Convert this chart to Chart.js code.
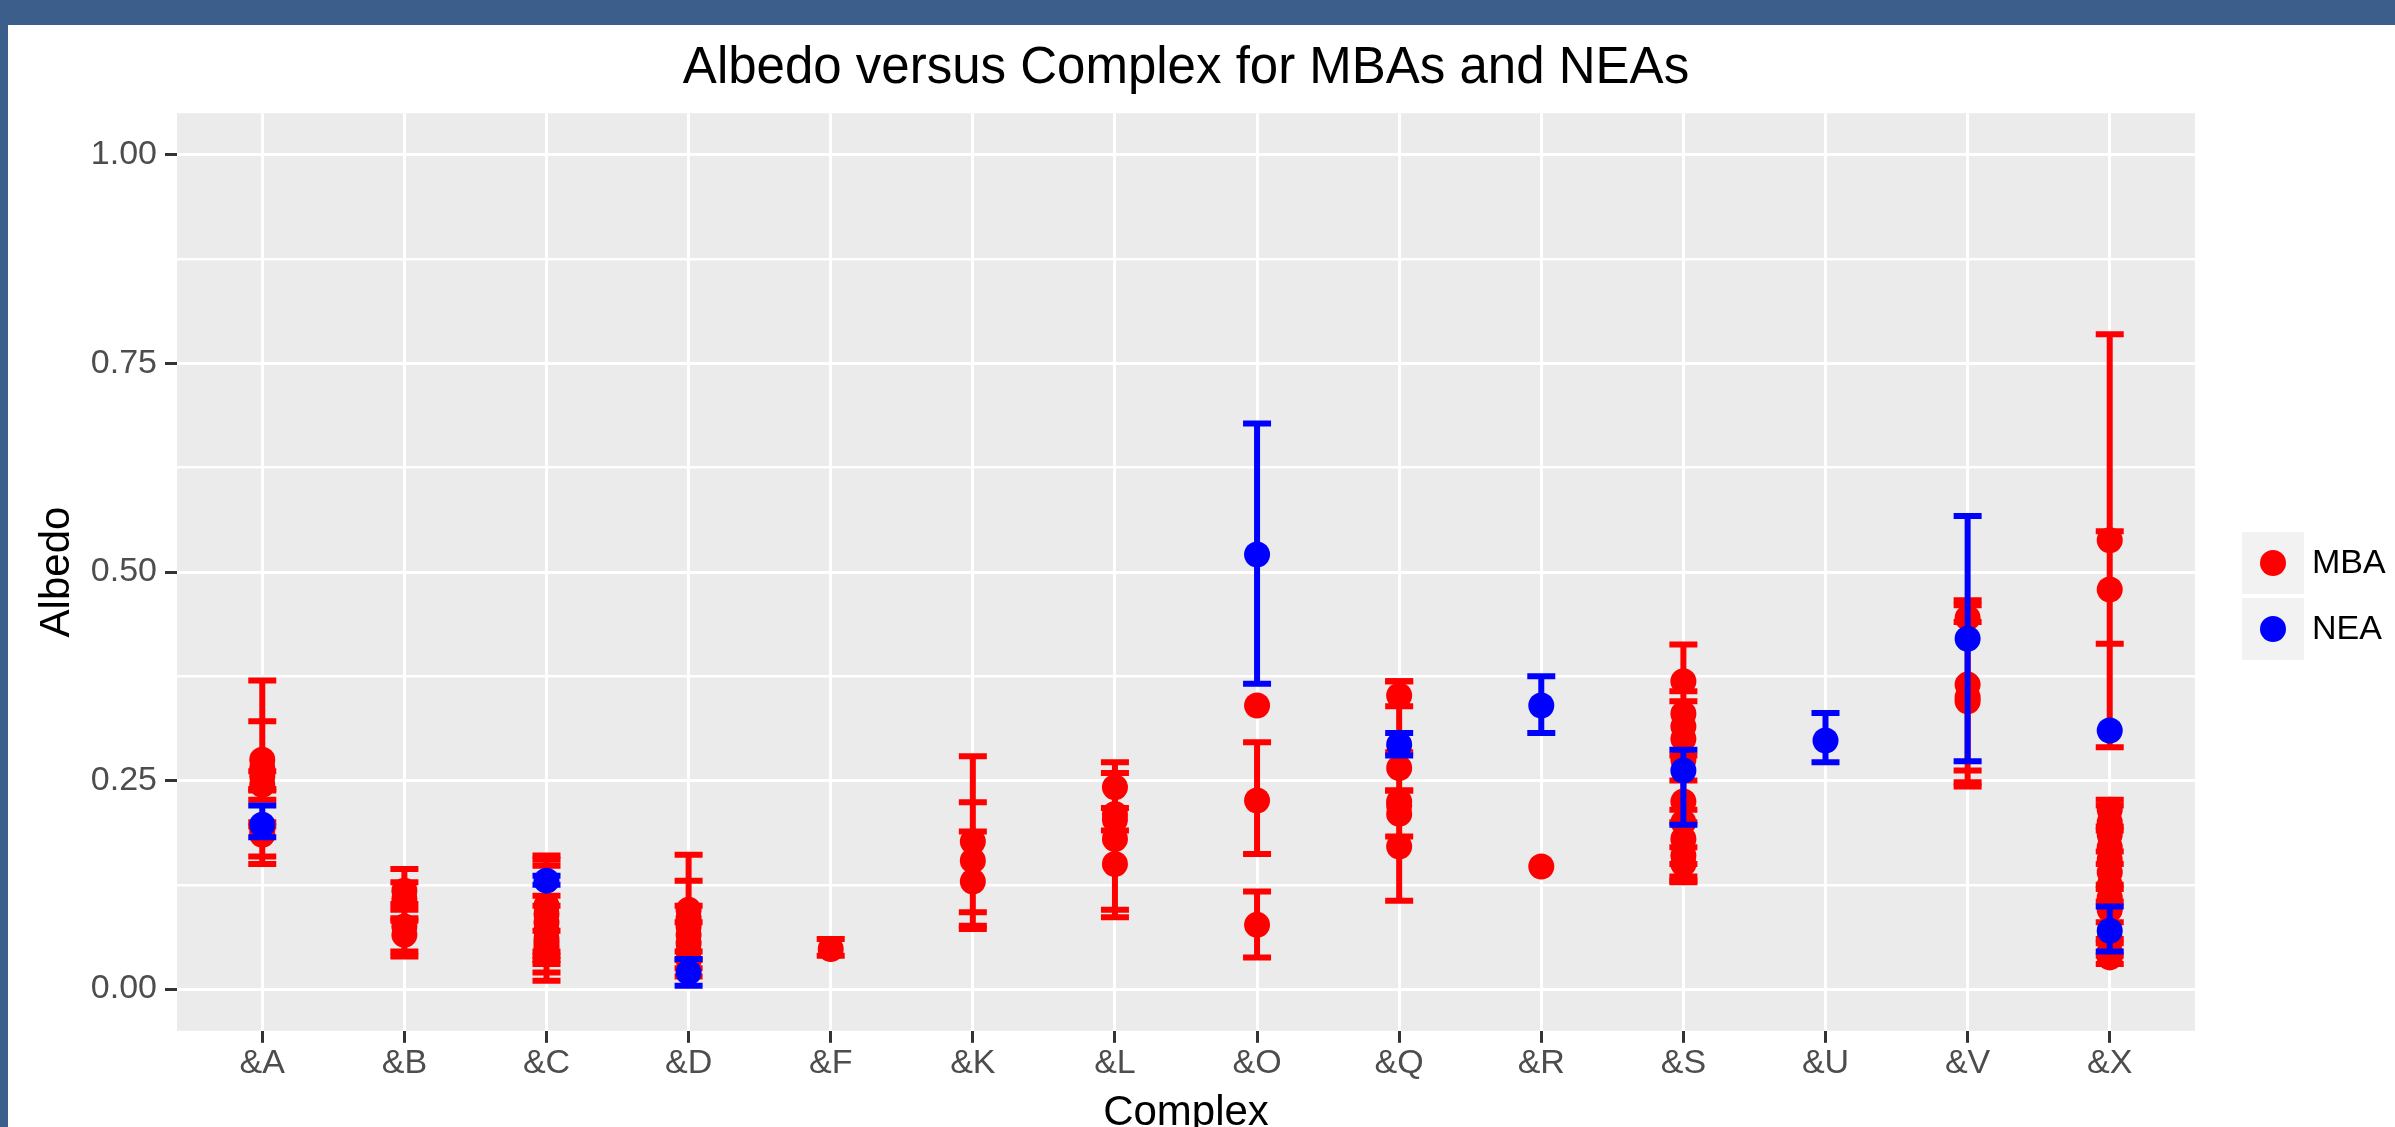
<!DOCTYPE html>
<html lang="en">
<head>
<meta charset="UTF-8">
<title>Albedo versus Complex for MBAs and NEAs</title>
<script src="https://cdn.jsdelivr.net/npm/chart.js@4.4.0/dist/chart.umd.min.js"></script>
<style>
    html, body {
        margin: 0;
        padding: 0;
        overflow: hidden;
        background: #3b5f8a;
    }
    .frame {
        position: absolute;
        left: 8px;
        top: 25px;
        right: 0;
        bottom: 0;
        background: #fff;
        overflow: hidden;
    }
    .box {
        position: absolute;
        left: 0;
        top: 0;
        width: 2387px;
        height: 1114px;
    }
</style>
</head>
<body>
<div class="frame"><div class="box"><canvas id="chrt"></canvas></div></div>

<script>
    // categories on the x axis
    const complexes = ['&A', '&B', '&C', '&D', '&F', '&K', '&L', '&O', '&Q', '&R', '&S', '&U', '&V', '&X']

    // y axis: labelled ticks and the minor grid lines
    const yTicks = [0, 0.25, 0.5, 0.75, 1]
    const yMinor = [0.125, 0.375, 0.625, 0.875]

    // MBA: complex, albedo, lower and upper error (null = no error bar)
    const mbaComplex = [
        '&A', '&A', '&A', '&A', '&A', '&A',
        '&B', '&B', '&B', '&B',
        '&C', '&C', '&C', '&C', '&C', '&C', '&C', '&C',
        '&D', '&D', '&D', '&D', '&D', '&D', '&D',
        '&F',
        '&K', '&K', '&K',
        '&L', '&L', '&L', '&L', '&L',
        '&O', '&O', '&O',
        '&Q', '&Q', '&Q', '&Q', '&Q', '&Q',
        '&R',
        '&S', '&S', '&S', '&S', '&S', '&S', '&S', '&S', '&S', '&S',
        '&V', '&V', '&V', '&V',
        '&X', '&X', '&X', '&X', '&X', '&X', '&X', '&X', '&X', '&X', '&X', '&X', '&X', '&X'
    ]
    const mbaAlbedo = [
        0.265, 0.255, 0.245, 0.275, 0.190, 0.185,
        0.118, 0.108, 0.075, 0.065,
        0.100, 0.090, 0.080, 0.070, 0.060, 0.050, 0.042, 0.055,
        0.095, 0.085, 0.075, 0.065, 0.055, 0.045, 0.035,
        0.048,
        0.177, 0.154, 0.129,
        0.242, 0.210, 0.203, 0.180, 0.150,
        0.340, 0.226, 0.077,
        0.352, 0.265, 0.225, 0.210, 0.220, 0.171,
        0.147,
        0.369, 0.330, 0.315, 0.300, 0.275, 0.225, 0.200, 0.180, 0.160, 0.150,
        0.445, 0.365, 0.350, 0.345,
        0.538, 0.479, 0.215, 0.200, 0.185, 0.170, 0.155, 0.140, 0.125, 0.110, 0.095, 0.060, 0.045, 0.038
    ]
    const mbaLow = [
        0.227, 0.238, 0.240, null, 0.150, 0.159,
        0.095, 0.085, 0.039, 0.045,
        0.045, 0.020, 0.030, 0.040, 0.010, 0.035, null, null,
        0.025, 0.015, 0.045, null, 0.035, null, null,
        0.040,
        0.076, 0.092, 0.072,
        0.095, 0.086, 0.190, null, null,
        null, 0.162, 0.038,
        0.339, 0.238, 0.106, 0.183, null, null,
        null,
        0.130, 0.135, 0.280, null, null, 0.200, null, 0.150, null, 0.128,
        0.262, 0.248, 0.243, null,
        0.290, 0.414, 0.195, null, 0.165, null, 0.125, null, 0.105, null, 0.060, 0.040, 0.030, null
    ]
    const mbaHigh = [
        0.370, 0.321, 0.261, null, 0.200, 0.195,
        0.144, 0.128, 0.102, 0.082,
        0.160, 0.155, 0.148, 0.112, 0.100, 0.070, null, null,
        0.161, 0.130, 0.100, null, 0.080, null, null,
        0.060,
        0.279, 0.224, 0.189,
        0.272, 0.259, 0.217, null, null,
        null, 0.296, 0.117,
        0.369, 0.284, 0.369, 0.238, null, null,
        null,
        0.413, 0.357, 0.345, null, null, 0.250, null, 0.215, null, 0.170,
        0.466, 0.460, 0.440, null,
        0.785, 0.549, 0.227, null, 0.220, null, 0.190, null, 0.150, null, 0.120, 0.080, 0.055, null
    ]

    // NEA
    const neaComplex = ['&A', '&C', '&D', '&O', '&Q', '&R', '&S', '&U', '&V', '&X', '&X']
    const neaAlbedo = [0.197, 0.130, 0.020, 0.521, 0.293, 0.340, 0.262, 0.298, 0.420, 0.310, 0.070]
    const neaLow = [0.182, 0.125, 0.004, 0.366, 0.280, 0.307, 0.197, 0.272, 0.273, null, 0.045]
    const neaHigh = [0.220, 0.136, 0.036, 0.678, 0.307, 0.375, 0.287, 0.331, 0.567, null, 0.099]

    const red = '#ff0000'
    const blue = '#0000ff'

    Chart.defaults.font.family = '"Liberation Sans", Arial, sans-serif'

    function points(cx, vals) {
        return cx.map((c, i) => ({ x: complexes.indexOf(c), y: vals[i] }))
    }

    // each error bar is a two point segment, null breaks the line between bars
    function bars(cx, lo, hi) {
        let out = []
        cx.forEach((c, i) => {
            if (lo[i] == null) return
            let x = complexes.indexOf(c)
            out.push({ x: x, y: lo[i] }, { x: x, y: hi[i] }, { x: x, y: null })
        })
        return out
    }

    function barSet(label, data, col) {
        return {
            type: 'line',
            label: label,
            data: data,
            borderColor: col,
            borderWidth: 6,
            spanGaps: false,
            fill: false,
            pointStyle: 'line',
            pointRadius: 14,
            pointHoverRadius: 14,
            pointBorderWidth: 6,
            pointHoverBorderWidth: 6,
            pointBorderColor: col
        }
    }

    function dotSet(label, data, col) {
        return {
            type: 'scatter',
            label: label,
            data: data,
            backgroundColor: col,
            borderWidth: 0,
            pointRadius: 13,
            pointHoverRadius: 13
        }
    }

    const panelBg = {
        id: 'panelBg',
        beforeDraw(chart) {
            let a = chart.chartArea
            chart.ctx.save()
            chart.ctx.fillStyle = '#ebebeb'
            chart.ctx.fillRect(a.left, a.top, a.right - a.left, a.bottom - a.top)
            chart.ctx.restore()
        }
    }

    // ggplot style legend keys on the right
    const keyLegend = {
        id: 'keyLegend',
        afterDraw(chart) {
            let ctx = chart.ctx
            let left = chart.chartArea.right + 47
            let items = chart.data.datasets.filter(d => d.type === 'scatter')
            items.sort((a, b) => a.label.localeCompare(b.label))
            ctx.save()
            items.forEach((d, k) => {
                let top = 507 + k * 66
                ctx.fillStyle = '#f2f2f2'
                ctx.fillRect(left, top, 62, 62)
                ctx.fillStyle = d.backgroundColor
                ctx.beginPath()
                ctx.arc(left + 31, top + 31, 13, 0, Math.PI * 2)
                ctx.fill()
                ctx.fillStyle = '#000'
                ctx.font = '34px "Liberation Sans", Arial, sans-serif'
                ctx.textAlign = 'left'
                ctx.textBaseline = 'middle'
                ctx.fillText(d.label, left + 70, top + 32)
            })
            ctx.restore()
        }
    }

    let chrt = document.getElementById('chrt').getContext('2d')

    // first dataset is drawn on top
    let myChart = new Chart(chrt, {
        type: 'scatter',
        data: {
            datasets: [
                dotSet('NEA', points(neaComplex, neaAlbedo), blue),
                barSet('NEA bars', bars(neaComplex, neaLow, neaHigh), blue),
                dotSet('MBA', points(mbaComplex, mbaAlbedo), red),
                barSet('MBA bars', bars(mbaComplex, mbaLow, mbaHigh), red)
            ]
        },
        options: {
            responsive: true,
            maintainAspectRatio: false,
            animation: false,
            devicePixelRatio: 1,
            layout: { padding: { left: 24, right: 200, top: 0, bottom: 0 } },
            plugins: {
                legend: { display: false },
                tooltip: { enabled: false },
                title: {
                    display: true,
                    fullSize: false,
                    text: 'Albedo versus Complex for MBAs and NEAs',
                    color: '#000',
                    font: { size: 51, weight: 'normal', lineHeight: 1.2 },
                    padding: { top: 13, bottom: 14 }
                }
            },
            scales: {
                x: {
                    type: 'linear',
                    min: -0.6,
                    max: 13.6,
                    afterBuildTicks: s => { s.ticks = complexes.map((c, i) => ({ value: i })) },
                    ticks: {
                        callback: v => complexes[v],
                        color: '#4d4d4d',
                        font: { size: 34 },
                        padding: 0,
                        autoSkip: false,
                        maxRotation: 0
                    },
                    grid: { color: '#fff', lineWidth: 3, tickLength: 12, tickColor: '#333', tickWidth: 3 },
                    border: { display: false },
                    title: {
                        display: true,
                        text: 'Complex',
                        color: '#000',
                        font: { size: 42 },
                        padding: { top: 5, bottom: 0 }
                    }
                },
                y: {
                    min: -0.05,
                    max: 1.05,
                    afterBuildTicks: s => { s.ticks = yTicks.concat(yMinor).sort().map(v => ({ value: v })) },
                    afterFit: s => { s.width = 145 },
                    ticks: {
                        callback: v => yTicks.includes(v) ? v.toFixed(2) : '',
                        color: '#4d4d4d',
                        font: { size: 34 },
                        padding: 8,
                        autoSkip: false
                    },
                    grid: {
                        color: '#fff',
                        lineWidth: c => yTicks.includes(c.tick.value) ? 3 : 2.5,
                        tickLength: 12,
                        tickColor: c => yTicks.includes(c.tick.value) ? '#333' : 'rgba(0,0,0,0)',
                        tickWidth: 3
                    },
                    border: { display: false },
                    title: {
                        display: true,
                        text: 'Albedo',
                        color: '#000',
                        font: { size: 42 },
                        padding: { top: 0, bottom: 8 }
                    }
                }
            }
        },
        plugins: [panelBg, keyLegend]
    })
</script>
</body>
</html>
